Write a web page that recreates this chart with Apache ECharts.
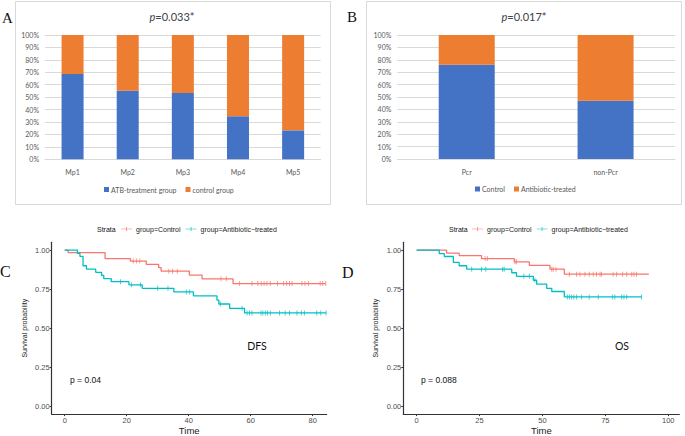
<!DOCTYPE html>
<html><head><meta charset="utf-8">
<script src="https://cdn.jsdelivr.net/npm/echarts@6/dist/echarts.min.js"></script>
<style>html,body{margin:0;padding:0;background:#fff}#c{width:685px;height:436px}</style>
</head><body><div id="c"></div>
<script>
// ---- Panel A data ----
const catsA = ['Mp1', 'Mp2', 'Mp3', 'Mp4', 'Mp5'];
const atbA = [68.6, 55.2, 53.4, 34.6, 23.3];
const ctrlA = [31.4, 44.8, 46.6, 65.4, 76.7];
// ---- Panel B data ----
const catsB = ['Pcr', 'non-Pcr'];
const ctrlB = [76.1, 47.0];
const abxB = [23.9, 53.0];
const pctTicks = [0, 10, 20, 30, 40, 50, 60, 70, 80, 90, 100];
// ---- Panel C (DFS) Kaplan-Meier: [time, survival] ----
const dfsCtrl = [[0,1],[1.1,0.984],[13.0,0.946],[21.2,0.93],[26.3,0.909],[30.3,0.888],[31.1,0.865],[40.2,0.84],[44.3,0.816],[54.3,0.786],[84.2,0.786]];
const dfsCtrlCens = [22.1,23.2,24.2,33.6,34.8,36.3,50.4,52.1,56.4,60.4,62.3,63.4,64.3,65.2,66.3,68.6,70.6,71.6,72.5,73.3,76.5,77.5,78.6,82.4,83.2,84.2];
const dfsAbx = [[0,1],[4.1,0.98],[4.9,0.96],[5.9,0.90],[7.0,0.878],[10.0,0.858],[11.9,0.838],[12.6,0.818],[15.0,0.798],[20.7,0.778],[25.0,0.755],[35.2,0.732],[41.5,0.707],[49.1,0.68],[49.7,0.655],[53.2,0.627],[58.0,0.598],[84.3,0.598]];
const dfsAbxCens = [18.0,21.5,24.4,30.0,33.3,39.2,40.3,50.2,57.2,58.8,59.6,60.4,63.3,63.9,64.7,65.4,66.3,69.3,71.1,72.5,74.9,76.3,77.3,81.3,82.6,84.3];
const dfsTicks = [0, 20, 40, 60, 80];
// ---- Panel D (OS) Kaplan-Meier ----
const osCtrl = [[0,1],[11.9,0.981],[16.9,0.965],[25.8,0.946],[38.8,0.925],[44.8,0.902],[53.0,0.878],[58.7,0.846],[92.3,0.846]];
const osCtrlCens = [27.2,28.1,39.1,39.7,53.7,54.3,55.4,60.7,63.6,64.9,66.9,68.6,70.2,71.5,72.9,73.5,78.1,79.5,81.9,83.5,85.5,86.4,87.4];
const osAbx = [[0,1],[9.0,0.977],[11.0,0.959],[14.6,0.921],[16.9,0.90],[19.9,0.878],[37.8,0.855],[39.7,0.832],[46.4,0.807],[47.7,0.782],[51.7,0.755],[53.7,0.735],[58.7,0.70],[89.4,0.70]];
const osAbxCens = [21.9,25.8,27.5,34.2,34.8,42.6,44.8,47.0,59.9,60.7,61.6,62.5,63.6,65.6,68.6,72.2,77.9,78.8,81.5,82.4,83.5,89.4];
const osTicks = [0, 25, 50, 75, 100];
const survTicks = [0, 0.25, 0.5, 0.75, 1];

const RED = '#F8766D', CYAN = '#00BFC4', BLUE = '#4472C4', ORANGE = '#ED7D31';
const XL = 'Lato, "Open Sans", sans-serif';
const RF = '"Liberation Sans", Arial, sans-serif';

function survAt(steps, t) {
  let s = steps[0][1];
  for (const p of steps) { if (p[0] <= t) s = p[1]; }
  return s;
}
function cens(steps, times) { return times.map(t => [t, survAt(steps, t)]); }

const chart = echarts.init(document.getElementById('c'), null, {renderer: 'svg'});

function barX(idx, cats) {
  return {type: 'category', gridIndex: idx, data: cats,
    axisLine: {lineStyle: {color: '#d9d9d9'}}, axisTick: {show: false},
    axisLabel: {color: '#595959', fontFamily: XL, fontSize: 7, margin: 9}};
}
function barY(idx) {
  return {type: 'value', gridIndex: idx, min: 0, max: 100, interval: 10,
    axisLine: {show: false}, axisTick: {show: false},
    splitLine: {lineStyle: {color: '#d9d9d9', width: 1}},
    axisLabel: {color: '#595959', fontFamily: XL, fontSize: 7, margin: 6, formatter: '{value}%'}};
}
function kmX(idx, min, max, ticks) {
  return {type: 'value', gridIndex: idx, min: min, max: max,
    name: 'Time', nameLocation: 'middle', nameGap: 8,
    nameTextStyle: {fontFamily: RF, fontSize: 9.5, color: '#222'},
    axisLine: {onZero: false, lineStyle: {color: '#333', width: 1.2}},
    axisTick: {customValues: ticks, length: 2, lineStyle: {color: '#333'}},
    axisLabel: {customValues: ticks, fontFamily: RF, fontSize: 7.5, color: '#4d4d4d', margin: 2},
    splitLine: {show: false}};
}
function kmY(idx) {
  return {type: 'value', gridIndex: idx, min: -0.05, max: 1.05,
    name: 'Survival probability', nameLocation: 'middle', nameGap: 24, nameRotate: 90,
    nameTextStyle: {fontFamily: RF, fontSize: 7, color: '#222'},
    axisLine: {onZero: false, lineStyle: {color: '#333', width: 1.2}},
    axisTick: {customValues: survTicks, length: 2, lineStyle: {color: '#333'}},
    axisLabel: {customValues: survTicks, fontFamily: RF, fontSize: 7.5, color: '#4d4d4d', margin: 2,
      formatter: v => v.toFixed(2)},
    splitLine: {show: false}};
}
function kmLine(name, idx, data, color) {
  return {type: 'line', name: name, xAxisIndex: idx, yAxisIndex: idx, step: 'end', data: data,
    symbol: 'none', showSymbol: false, lineStyle: {color: color, width: 1.3}, itemStyle: {color: color}, z: 3};
}
function kmCens(name, idx, steps, times, color) {
  return {type: 'scatter', name: name, xAxisIndex: idx, yAxisIndex: idx, data: cens(steps, times),
    symbol: 'rect', symbolSize: [0.9, 5], itemStyle: {color: color}, z: 4};
}
const plusIcon = 'path://M0,2.6H16V3.4H0Z M7.5,0H8.5V6H7.5Z';
function kmLegend(left) {
  return {left: left, top: 225.5, padding: 0, itemWidth: 11, itemHeight: 6, itemGap: 5,
    textStyle: {fontFamily: RF, fontSize: 7, color: '#222', padding: [0, 0, 0, -1]},
    data: [{name: 'group=Control', icon: plusIcon, itemStyle: {color: RED}},
           {name: 'group=Antibiotic\u2212treated', icon: plusIcon, itemStyle: {color: CYAN}}]};
}
function txt(x, y, text, font, size, align, extra) {
  return {type: 'text', x: x, y: y, style: Object.assign({text: text, fontFamily: font, fontSize: size,
    fill: '#111', align: align || 'left', verticalAlign: 'middle'}, extra || {})};
}

const option = {
  animation: false,
  backgroundColor: '#fff',
  grid: [
    {left: 45, right: 364.3, top: 35, bottom: 276.7},
    {left: 397.3, right: 10, top: 35, bottom: 277},
    {left: 51.7, right: 358.3, top: 242.3, bottom: 16.7},
    {left: 403.3, right: 5.7, top: 242.3, bottom: 16.7}
  ],
  xAxis: [barX(0, catsA), barX(1, catsB), kmX(2, -4.2, 84.5, dfsTicks), kmX(3, -5.3, 104.4, osTicks)],
  yAxis: [barY(0), barY(1), kmY(2), kmY(3)],
  legend: [
    {left: 104, top: 186, padding: 0, itemWidth: 5, itemHeight: 5, itemGap: 9, icon: 'rect',
      textStyle: {fontFamily: XL, fontSize: 7, color: '#595959', padding: [0, 0, 0, -3]},
      data: ['ATB-treatment group', 'control group']},
    {left: 475, top: 185.5, padding: 0, itemWidth: 5, itemHeight: 5, itemGap: 9, icon: 'rect',
      textStyle: {fontFamily: XL, fontSize: 7, color: '#595959', padding: [0, 0, 0, -3]},
      data: ['Control', 'Antibiotic-treated']},
    kmLegend(121),
    kmLegend(472)
  ],
  series: [
    {type: 'bar', name: 'ATB-treatment group', xAxisIndex: 0, yAxisIndex: 0, stack: 'a', data: atbA, barWidth: 22, itemStyle: {color: BLUE}},
    {type: 'bar', name: 'control group', xAxisIndex: 0, yAxisIndex: 0, stack: 'a', data: ctrlA, barWidth: 22, itemStyle: {color: ORANGE}},
    {type: 'bar', name: 'Control', xAxisIndex: 1, yAxisIndex: 1, stack: 'b', data: ctrlB, barWidth: 56, itemStyle: {color: BLUE}},
    {type: 'bar', name: 'Antibiotic-treated', xAxisIndex: 1, yAxisIndex: 1, stack: 'b', data: abxB, barWidth: 56, itemStyle: {color: ORANGE}},
    kmLine('group=Control', 2, dfsCtrl, RED),
    kmCens('group=Control', 2, dfsCtrl, dfsCtrlCens, RED),
    kmLine('group=Antibiotic\u2212treated', 2, dfsAbx, CYAN),
    kmCens('group=Antibiotic\u2212treated', 2, dfsAbx, dfsAbxCens, CYAN),
    kmLine('group=Control', 3, osCtrl, RED),
    kmCens('group=Control', 3, osCtrl, osCtrlCens, RED),
    kmLine('group=Antibiotic\u2212treated', 3, osAbx, CYAN),
    kmCens('group=Antibiotic\u2212treated', 3, osAbx, osAbxCens, CYAN)
  ],
  graphic: [
    {type: 'rect', shape: {x: 15.5, y: 1.5, width: 315, height: 203}, style: {fill: 'none', stroke: '#d9d9d9', lineWidth: 1}, z: -1},
    {type: 'rect', shape: {x: 366.5, y: 1.5, width: 315, height: 203}, style: {fill: 'none', stroke: '#d9d9d9', lineWidth: 1}, z: -1},
    txt(2, 18, 'A', '"Liberation Serif", serif', 15),
    txt(347, 17, 'B', '"Liberation Serif", serif', 15),
    txt(0, 271, 'C', '"Liberation Serif", serif', 16),
    txt(342, 272, 'D', '"Liberation Serif", serif', 16),
    txt(172, 16, '{i|p}=0.033*', XL, 11, 'center', {fill: '#404040', rich: {i: {fontStyle: 'italic', fontFamily: XL, fontSize: 11, fill: '#404040'}}}),
    txt(524, 16, '{i|p}=0.017*', XL, 11, 'center', {fill: '#404040', rich: {i: {fontStyle: 'italic', fontFamily: XL, fontSize: 11, fill: '#404040'}}}),
    txt(97, 229, 'Strata', RF, 7),
    txt(449, 229, 'Strata', RF, 7),
    txt(70, 380, 'p = 0.04', RF, 8.5),
    txt(421, 379.5, 'p = 0.088', RF, 8.5),
    txt(257, 346, 'DFS', XL, 10.5, 'center'),
    txt(622, 346, 'OS', XL, 10.5, 'center')
  ]
};
chart.setOption(option);
</script></body></html>
